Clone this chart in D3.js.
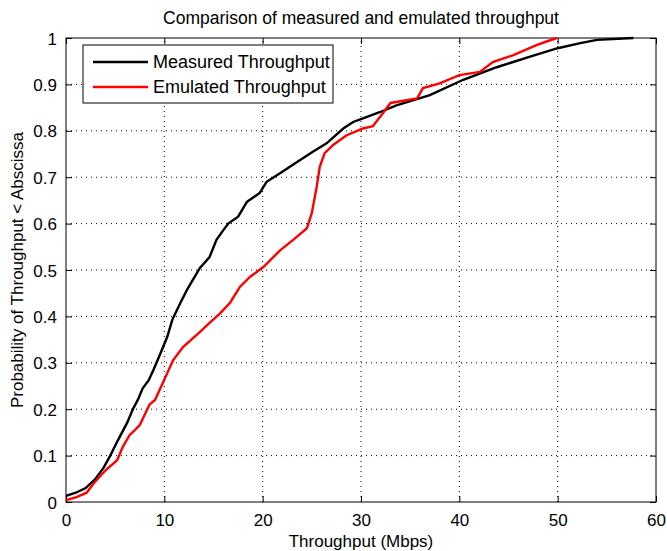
<!DOCTYPE html>
<html><head><meta charset="utf-8">
<script src="https://cdn.jsdelivr.net/npm/d3@7"></script>
<style>
body{margin:0;background:#fff;}
text{font-family:"Liberation Sans Narrow","Arial Narrow","Liberation Sans",Arial,sans-serif;fill:#000;}
</style></head>
<body><svg id="c" width="667" height="551"></svg>
<script>
const title = "Comparison of measured and emulated throughput";
const xLabel = "Throughput (Mbps)";
const yLabel = "Probability of Throughput < Abscissa";
const seriesNames = ["Measured Throughput", "Emulated Throughput"];
const seriesColors = ["#000000", "#ff0000"];
const xTicks = [0,10,20,30,40,50,60];
const yTicks = [0,0.1,0.2,0.3,0.4,0.5,0.6,0.7,0.8,0.9,1];
const yTickLabels = ["0","0.1","0.2","0.3","0.4","0.5","0.6","0.7","0.8","0.9","1"];

const measuredX = [0,1,2,3,3.8,4.5,5.3,6.2,6.8,7.3,7.8,8.4,8.9,9.6,10.3,10.8,11.6,12.3,13.6,14.6,15.3,16,16.5,17.5,18.4,19.7,20.4,21.8,23.5,25.1,26.5,28.2,29.2,30.2,31.9,33.6,37,40.4,43.8,47.2,50,52.3,54,57.7];
const measuredY = [0.013,0.02,0.03,0.05,0.073,0.10,0.134,0.17,0.2,0.22,0.245,0.262,0.285,0.32,0.356,0.392,0.428,0.457,0.504,0.528,0.565,0.586,0.60,0.615,0.647,0.666,0.69,0.709,0.733,0.755,0.773,0.805,0.819,0.827,0.84,0.855,0.877,0.91,0.937,0.96,0.978,0.989,0.996,1];
const emulatedX = [0,1,2.1,2.8,4.1,5.2,5.8,6.5,7,7.5,8.5,9.05,9.9,10.9,11.9,13.6,14.6,15.7,16.7,17.7,18.7,20.1,21.8,23.1,24.5,25,25.5,25.8,26.3,27.2,28.5,30.2,31.2,32.3,33,35.7,36.3,38,40,42.1,43.4,45.5,47.9,49.9];
const emulatedY = [0.004,0.01,0.02,0.04,0.07,0.09,0.12,0.145,0.155,0.166,0.21,0.22,0.259,0.306,0.334,0.366,0.386,0.407,0.43,0.464,0.485,0.507,0.543,0.565,0.59,0.623,0.68,0.722,0.752,0.77,0.79,0.805,0.81,0.84,0.86,0.87,0.892,0.902,0.92,0.927,0.948,0.963,0.985,1];

const svg = d3.select("#c");
const m = {l:66, t:38, r:11, b:49};
const W = 667, H = 551;
const x = d3.scaleLinear().domain([0,60]).range([m.l, W-m.r]);
const y = d3.scaleLinear().domain([0,1]).range([H-m.b, m.t]);
const pw = W-m.l-m.r, ph = H-m.t-m.b;

// grid
const g = svg.append("g");
g.selectAll(".gx").data(xTicks.slice(1,-1)).enter().append("line")
 .attr("x1",d=>x(d)).attr("x2",d=>x(d)).attr("y1",y(0)).attr("y2",y(1))
 .attr("stroke","#000").attr("stroke-width",1).attr("stroke-dasharray","1,4");
g.selectAll(".gy").data(yTicks.slice(1,-1)).enter().append("line")
 .attr("y1",d=>y(d)).attr("y2",d=>y(d)).attr("x1",x(0)).attr("x2",x(60))
 .attr("stroke","#000").attr("stroke-width",1).attr("stroke-dasharray","1,4");

// axes with inward ticks
const ax = d3.axisBottom(x).tickValues(xTicks).tickSize(-6).tickPadding(12).tickFormat(d3.format("d"));
const axG = svg.append("g").attr("transform",`translate(0,${y(0)})`).call(ax);
const axT = svg.append("g").attr("transform",`translate(0,${y(1)})`).call(d3.axisTop(x).tickValues(xTicks).tickSize(-6).tickFormat(""));
const ay = d3.axisLeft(y).tickValues(yTicks).tickSize(-6).tickPadding(9).tickFormat((d,i)=>yTickLabels[i]);
const ayG = svg.append("g").attr("transform",`translate(${x(0)},0)`).call(ay);
const ayR = svg.append("g").attr("transform",`translate(${x(60)},0)`).call(d3.axisRight(y).tickValues(yTicks).tickSize(-6).tickFormat(""));
[axG,axT,ayG,ayR].forEach(a=>{
  a.select(".domain").remove();
  a.selectAll("line").attr("stroke","#000");
  a.selectAll("text").attr("font-size",17).attr("font-family",null);
});
axG.selectAll("text").attr("dy","0.71em");
ayG.selectAll("text").attr("dy","0.36em");
svg.append("rect").attr("x",x(0)).attr("y",y(1)).attr("width",pw).attr("height",ph)
 .attr("fill","none").attr("stroke","#000").attr("stroke-width",1);

// lines
const line = d3.line().x(d=>x(d[0])).y(d=>y(d[1]));
const mData = measuredX.map((v,i)=>[v,measuredY[i]]);
const eData = emulatedX.map((v,i)=>[v,emulatedY[i]]);
svg.append("path").datum(mData).attr("d",line).attr("fill","none").attr("stroke",seriesColors[0]).attr("stroke-width",2.4);
svg.append("path").datum(eData).attr("d",line).attr("fill","none").attr("stroke",seriesColors[1]).attr("stroke-width",2.4);

// legend
const lg = svg.append("g");
lg.append("rect").attr("x",83).attr("y",45).attr("width",250).attr("height",58).attr("fill","#fff").attr("stroke","#000");
seriesNames.forEach((n,i)=>{
  const yy = 62 + i*25;
  lg.append("line").attr("x1",93).attr("x2",148).attr("y1",yy).attr("y2",yy).attr("stroke",seriesColors[i]).attr("stroke-width",2.4);
  lg.append("text").attr("x",153).attr("y",yy+6).attr("font-size",18).text(n);
});

// titles
svg.append("text").attr("x",(x(0)+x(60))/2).attr("y",24).attr("text-anchor","middle").attr("font-size",17.5).text(title);
svg.append("text").attr("x",(x(0)+x(60))/2).attr("y",547).attr("text-anchor","middle").attr("font-size",17).text(xLabel);
svg.append("text").attr("transform",`translate(23,${(y(0)+y(1))/2}) rotate(-90)`).attr("text-anchor","middle").attr("font-size",17).text(yLabel);
</script></body></html>
